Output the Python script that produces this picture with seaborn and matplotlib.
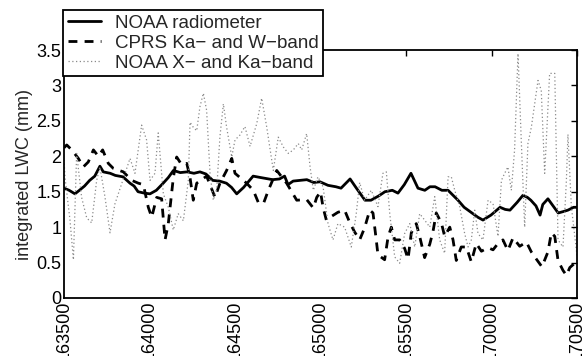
import matplotlib
matplotlib.use("Agg")
import matplotlib.pyplot as plt
import seaborn as sns
import numpy as np

# ---- data (time in minutes after 16:35:00) ----
t_radiometer = [0.0, 0.3, 0.64, 0.9, 1.2, 1.5, 1.8, 2.1, 2.3, 2.7, 3.0, 3.45, 3.86, 4.1, 4.33, 4.7,
                5.03, 5.4, 5.8, 6.1, 6.4, 6.8, 7.2, 7.6, 7.95, 8.3, 8.7, 9.1, 9.5, 9.8, 10.1, 10.5,
                11.06, 11.5, 12.2, 12.6, 12.9, 13.1, 13.4, 13.8, 14.2, 14.6, 14.97, 15.44, 15.9,
                16.2, 16.73, 17.1, 17.6, 17.95, 18.4, 18.77, 19.2, 19.53, 19.9, 20.29, 20.7, 21.1,
                21.4, 21.7, 22.1, 22.46, 23.04, 23.4, 23.8, 24.2, 24.5, 24.97, 25.5, 25.8, 26.08,
                26.5, 26.84, 27.1, 27.3, 27.6, 27.84, 28.0, 28.3, 28.6, 28.9, 29.2, 29.47, 29.8, 30.0]
lwc_radiometer = [1.55, 1.52, 1.47, 1.52, 1.58, 1.66, 1.72, 1.86, 1.78, 1.76, 1.73, 1.71, 1.62, 1.58,
                  1.50, 1.48, 1.47, 1.52, 1.62, 1.70, 1.80, 1.77, 1.78, 1.76, 1.78, 1.75, 1.66, 1.65,
                  1.62, 1.56, 1.47, 1.56, 1.72, 1.70, 1.67, 1.68, 1.72, 1.60, 1.65, 1.66, 1.67, 1.63,
                  1.64, 1.59, 1.57, 1.55, 1.68, 1.55, 1.38, 1.38, 1.44, 1.50, 1.52, 1.48, 1.60, 1.76,
                  1.55, 1.52, 1.57, 1.57, 1.52, 1.52, 1.38, 1.28, 1.21, 1.14, 1.10, 1.17, 1.28, 1.25,
                  1.24, 1.35, 1.45, 1.42, 1.38, 1.30, 1.17, 1.32, 1.40, 1.30, 1.20, 1.22, 1.24, 1.28, 1.28]

t_cprs = [0.0, 0.16, 0.45, 0.84, 1.13, 1.42, 1.72, 2.01, 2.26, 2.59, 2.88, 3.47, 3.96, 4.35, 4.64,
          4.93, 5.13, 5.42, 5.71, 5.91, 6.1, 6.39, 6.59, 6.88, 7.18, 7.37, 7.56, 7.76, 8.34, 8.83,
          9.12, 9.51, 9.81, 10.0, 10.68, 11.07, 11.36, 11.66, 11.95, 12.44, 13.02, 13.61, 14.19,
          14.58, 14.78, 15.0, 15.15, 15.34, 15.63, 16.02, 16.41, 16.7, 17.0, 17.29, 17.58, 17.88,
          18.07, 18.26, 18.36, 18.75, 18.95, 19.14, 19.34, 19.63, 19.92, 20.12, 20.31, 20.6, 20.8,
          21.09, 21.39, 21.58, 21.77, 22.07, 22.26, 22.56, 22.75, 22.94, 23.23, 23.53, 23.82,
          24.11, 24.41, 24.8, 25.09, 25.38, 25.67, 25.96, 26.26, 26.65, 27.04, 27.33, 27.62,
          27.95, 28.3, 28.5, 28.7, 28.89, 29.18, 29.38, 29.58, 29.77, 30.0]
lwc_cprs = [2.12, 2.16, 2.09, 1.97, 1.85, 1.92, 2.09, 2.00, 2.09, 1.90, 1.83, 1.78, 1.66, 1.62, 1.60,
            1.28, 1.14, 1.42, 1.40, 0.82, 1.05, 1.69, 1.99, 1.88, 1.90, 1.70, 1.38, 1.62, 1.72, 1.42,
            1.62, 1.80, 1.97, 1.76, 1.62, 1.52, 1.35, 1.33, 1.52, 1.80, 1.62, 1.38, 1.39,
            1.27, 1.42, 1.50, 1.28, 1.10, 1.15, 1.21, 1.24, 1.07, 0.93, 0.82, 0.99, 1.24,
            1.20, 0.82, 0.61, 0.54, 0.86, 1.00, 0.82, 0.82, 0.70, 0.55, 0.92, 1.05, 0.87,
            0.57, 0.76, 0.94, 1.20, 1.06, 0.87, 1.00, 0.82, 0.53, 0.72, 0.72, 0.51,
            0.77, 0.66, 0.71, 0.68, 0.77, 0.82, 0.67, 0.85, 0.73, 0.79, 0.65, 0.55,
            0.44, 0.65, 0.92, 0.87, 0.53, 0.39, 0.32, 0.43, 0.47, 0.53]

t_xka = [0.0, 0.06, 0.35, 0.55, 0.74, 1.03, 1.33, 1.62, 1.91, 2.1, 2.4, 2.69, 2.98, 3.37, 3.86,
         4.15, 4.54, 4.83, 5.03, 5.32, 5.51, 5.81, 6.1, 6.39, 6.68, 6.98, 7.27, 7.37, 7.56, 7.76,
         7.95, 8.15, 8.34, 8.54, 8.73, 8.93, 9.12, 9.32, 9.51, 9.81, 10.0, 10.29, 10.58, 10.88,
         11.27, 11.56, 11.85, 12.24, 12.53, 12.83, 13.12, 13.41, 13.7, 13.9, 14.19, 14.39, 14.58,
         14.85, 15.15, 15.44, 15.73, 16.02, 16.41, 16.8, 17.09, 17.29, 17.58, 17.97, 18.36, 18.65,
         18.85, 19.05, 19.34, 19.63, 19.92, 20.22, 20.51, 20.8, 21.09, 21.39, 21.68, 21.97, 22.26,
         22.46, 22.65, 22.85, 23.14, 23.43, 23.63, 23.82, 24.02, 24.21, 24.5, 24.8, 25.09, 25.38,
         25.58, 25.77, 25.96, 26.16, 26.35, 26.55, 26.74, 26.94, 27.13, 27.33, 27.72, 27.91, 28.11,
         28.4, 28.7, 28.89, 29.18, 29.38, 29.47, 29.67, 30.0]
lwc_xka = [1.95, 1.70, 1.10, 0.54, 2.04, 1.42, 1.13, 1.06, 1.66, 1.85, 1.42, 0.92, 1.33, 1.61, 1.97,
           1.76, 2.44, 2.23, 1.66, 1.76, 2.33, 1.47, 1.28, 0.96, 1.19, 1.09, 1.66, 2.48, 2.41, 2.36,
           2.70, 2.89, 2.65, 1.76, 1.38, 1.53, 2.28, 2.74, 2.41, 1.99, 2.23, 2.30, 2.42, 2.14,
           2.46, 2.82, 2.42, 1.80, 2.27, 2.13, 2.04, 2.09, 2.18, 2.09, 2.32, 1.85, 1.52,
           1.71, 1.57, 1.05, 0.82, 1.05, 1.00, 0.72, 1.19, 1.63, 1.38, 1.52, 1.29, 1.76,
           1.78, 1.19, 0.58, 0.49, 0.91, 1.05, 0.72, 1.19, 1.10, 1.00, 1.43, 0.82, 0.63,
           1.71, 1.71, 1.52, 1.29, 0.91, 0.72, 0.82, 1.24, 0.91, 0.82, 1.38, 1.33, 0.87,
           1.66, 1.76, 1.85, 1.52, 2.09, 3.45, 2.23, 1.00, 2.18, 2.41, 3.07, 2.93, 1.76,
           3.17, 3.17, 0.82, 0.72, 1.66, 2.31, 1.29, 0.60]

tick_minutes = [0, 5, 10, 15, 20, 25, 30]
tick_labels = ["163500", "164000", "164500", "165000", "165500", "170000", "170500"]
y_ticks = [0, 0.5, 1, 1.5, 2, 2.5, 3, 3.5]
y_tick_labels = ["0", "0.5", "1", "1.5", "2", "2.5", "3", "3.5"]

series_names = ["NOAA radiometer", "CPRS Ka\u2212 and W\u2212band", "NOAA X\u2212 and Ka\u2212band"]

# ---- plot ----
sns.set_style("white")
plt.rcParams["font.family"] = ["Liberation Sans", "DejaVu Sans"]

fig = plt.figure(figsize=(5.85, 3.56), dpi=100)
ax = fig.add_axes([64/585, 1-298/356, (577-64)/585, (298-50)/356])

sns.lineplot(x=t_radiometer, y=lwc_radiometer, ax=ax, color="black", lw=2.0,
             linestyle="-", label=series_names[0], estimator=None, sort=False)
sns.lineplot(x=t_cprs, y=lwc_cprs, ax=ax, color="black", lw=2.0,
             linestyle=(0, (3.2, 2.6)), label=series_names[1], estimator=None, sort=False)
sns.lineplot(x=t_xka, y=lwc_xka, ax=ax, color="#8a8a8a", lw=0.9,
             linestyle=(0, (1, 2)), label=series_names[2], estimator=None, sort=False)

ax.set_xlim(0, 30)
ax.set_ylim(0, 3.5)
ax.set_xticks(tick_minutes)
ax.set_xticklabels(tick_labels, rotation=90, fontsize=13)
ax.set_yticks(y_ticks)
ax.set_yticklabels(y_tick_labels, fontsize=13)
ax.set_ylabel("integrated LWC (mm)", fontsize=13, labelpad=2)
ax.set_xlabel("")
ax.tick_params(direction="in", top=True, right=True, length=4, width=1, color="black",
               pad=2, labelcolor="black")
for s in ax.spines.values():
    s.set_visible(True)
    s.set_color("black")
    s.set_linewidth(1.3)

leg = ax.legend(loc="upper left", bbox_to_anchor=(63/585, 1-10/356), bbox_transform=fig.transFigure,
                borderaxespad=0, fontsize=13.5, frameon=True, fancybox=False, framealpha=1,
                edgecolor="black", handlelength=1.8, handletextpad=0.7, labelspacing=0.15,
                borderpad=0.25)
leg.get_frame().set_linewidth(1.3)

fig.savefig("out.png", dpi=100)
